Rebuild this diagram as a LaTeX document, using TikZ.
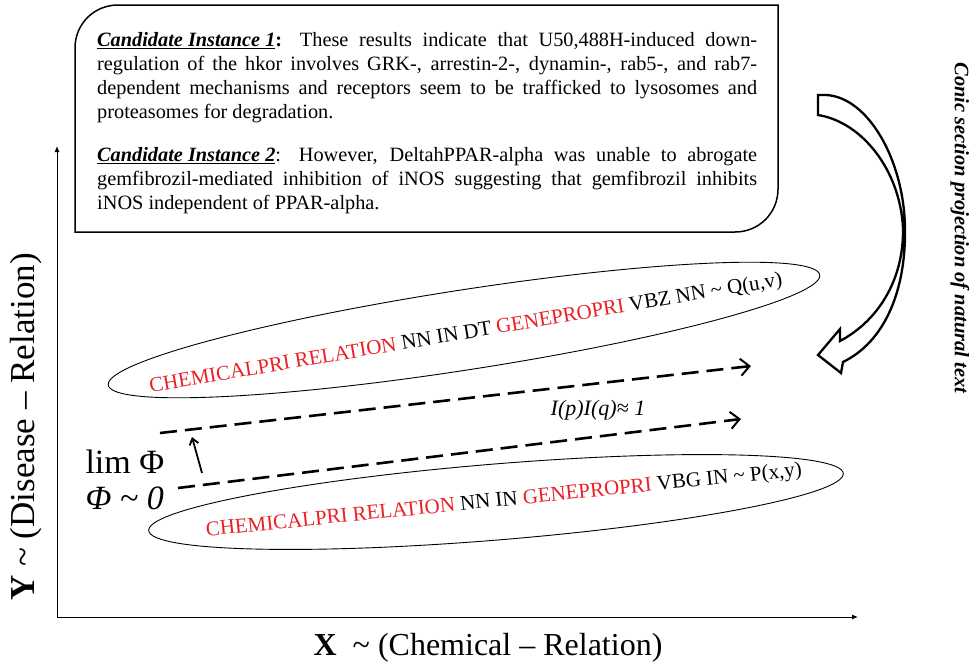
\documentclass[tikz,border=0pt]{standalone}
\usepackage{fontspec}
\setmainfont{Liberation Serif}
\usepackage{tikz}
\usetikzlibrary{arrows.meta,shapes.geometric}
\usepackage{xcolor}
\definecolor{tagred}{RGB}{234,32,39}

\tikzset{
  conic/.style={draw, ellipse, line width=0.9pt, inner sep=0pt},
  tagtext/.style={inner sep=0pt, font=\fontsize{21}{24}\selectfont},
  posline/.style={line width=2.6pt, dash pattern=on 17pt off 8pt,
    -{Straight Barb[length=9pt,width=17pt,line width=2pt]}},
  axis/.style={line width=1pt, -{Latex[length=6pt,width=5pt]}}
}
\newcommand{\tagr}[1]{\textcolor{tagred}{#1}}
\newcommand{\candname}[1]{\textbf{\textit{\underline{#1}}}}

\begin{document}
\begin{tikzpicture}[x=1pt,y=-1pt]
\useasboundingbox (0,0) rectangle (970,665);

% text box with two round corners
\draw[line width=1.5pt] (75,232) -- (75,48) .. controls (75,24) and (94,5) .. (118,5)
  -- (778,5) -- (778,189) .. controls (778,213) and (759,232) .. (735,232) -- cycle;
\node[anchor=north west, inner sep=0pt, text width=660pt, align=justify,
  font=\fontsize{20.3}{24}\selectfont] (cands) at (97,32)
  {\candname{Candidate Instance 1}\textbf{:} These results indicate that U50,488H-induced down-\linebreak
   regulation of the hkor involves GRK-, arrestin-2-, dynamin-, rab5-, and rab7-\linebreak
   dependent mechanisms and receptors seem to be trafficked to lysosomes and\linebreak
   proteasomes for degradation.\par\vspace{19pt}
   \candname{Candidate Instance 2}: However, DeltahPPAR-alpha was unable to abrogate\linebreak
   gemfibrozil-mediated inhibition of iNOS suggesting that gemfibrozil inhibits\linebreak
   iNOS independent of PPAR-alpha.\par};

% axes
\coordinate (origin) at (57,617);
\coordinate (ytop) at (57,146);
\coordinate (xend) at (858,617);
\draw[axis] (origin) -- (ytop);
\draw[axis] (origin) -- (xend);
\node[rotate=90, font=\fontsize{35}{40}\selectfont] (ylab) at (26,427)
  {\textbf{Y} \textasciitilde{} (Disease – Relation)};
\node[font=\fontsize{32}{36}\selectfont] (xlab) at (488,648)
  {\textbf{X}\ \ \textasciitilde{} (Chemical – Relation)};

% the two ellipses
\node[conic, rotate=8.8, minimum width=720pt, minimum height=80pt] (qell) at (464,330) {};
\node[tagtext, rotate=9.6] (qtext) at (466,334)
  {\tagr{CHEMICALPRI RELATION} NN IN DT \tagr{GENEPROPRI} VBZ NN \textasciitilde{} Q(u,v)};
\node[conic, rotate=4.7, minimum width=697pt, minimum height=76pt] (pell) at (496,502) {};
\node[tagtext, rotate=5.8] (ptext) at (504,501)
  {\tagr{CHEMICALPRI RELATION} NN IN \tagr{GENEPROPRI} VBG IN \textasciitilde{} P(x,y)};

% dashed lines and limit
\coordinate (qa) at (160,433);
\coordinate (qb) at (751,366);
\coordinate (pa) at (178,488);
\coordinate (pb) at (741,419);
\draw[posline] (qa) -- (qb);
\draw[posline] (pa) -- (pb);
\node[font=\itshape\fontsize{22}{24}\selectfont] (ipq) at (598,410) {I(p)I(q)≈ 1};
\node[anchor=west, font=\fontsize{34}{36}\selectfont] (lim) at (82,462) {lim Φ};
\node[anchor=west, font=\itshape\fontsize{34}{36}\selectfont] (phi) at (82,498) {Φ \textasciitilde{} 0};
\coordinate (up1) at (202,473);
\coordinate (up2) at (192,437);
\draw[line width=1.8pt, -{Straight Barb[length=6pt,width=9pt]}] (up1) -- (up2);

% curved block arrow
\draw[line width=2.3pt, line join=miter] (818,95) -- (818,115)
  .. controls (862,122) and (900,170) .. (903,228)
  .. controls (904,282) and (876,322) .. (840,341)
  -- (840,329) -- (818,355) -- (841,373) -- (843,362)
  .. controls (884,342) and (906,292) .. (905,228)
  .. controls (904,160) and (868,97) .. (826,95) -- cycle;
\node[rotate=-90, font=\bfseries\itshape\fontsize{20.5}{22}\selectfont] (conictxt) at (960,228)
  {Conic section projection of natural text};
\end{tikzpicture}
\end{document}
